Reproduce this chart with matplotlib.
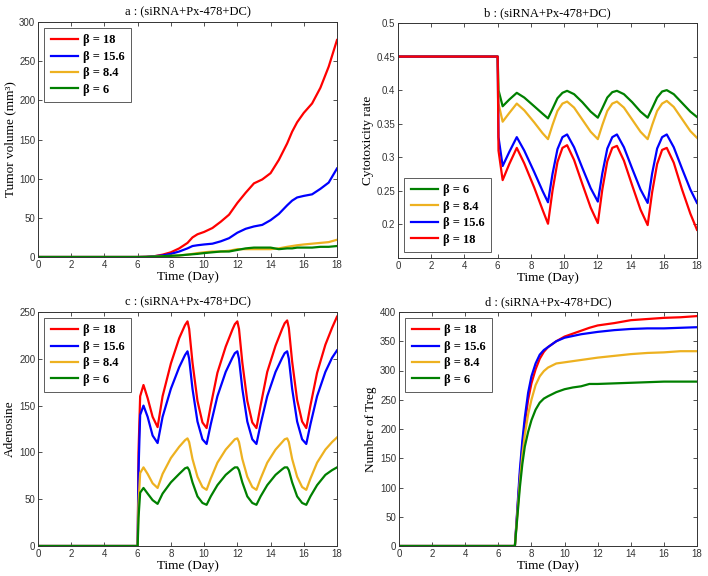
import matplotlib
matplotlib.use('Agg')
import matplotlib.pyplot as plt

# colours used by the four beta values
colors = {'18': '#ff0000', '15.6': '#0000ff', '8.4': '#edb120', '6': '#008000'}
title_txt = '(siRNA+Px-478+DC)'

# ---- panel a : tumor volume ----
a_x = [0, 6, 6.5, 7, 7.5, 8, 8.5, 9, 9.3, 9.6, 10, 10.5, 11, 11.5, 12, 12.5, 13, 13.5, 14,
       14.5, 15, 15.3, 15.6, 16, 16.5, 17, 17.5, 18]
a_red = [0, 0, 0.3, 1, 3, 6, 11, 18, 25, 29, 32, 37, 45, 54, 69, 82, 94, 99, 107,
         124, 145, 160, 172, 184, 196, 216, 243, 277]
a_blue = [0, 0, 0.2, 1, 2, 4, 7, 11, 14, 15, 16, 17, 20, 24, 31, 36, 39, 41, 47,
          55, 66, 72, 76, 78, 80, 87, 95, 113]
a_orange = [0, 0, 0.1, 0.5, 1, 1.5, 2, 3, 4, 5, 6, 7, 7, 8, 10, 10, 10, 10, 10,
            11, 13, 14, 15, 16, 17, 18, 19, 22]
a_green = [0, 0, 0.1, 0.5, 1, 1.5, 2, 3, 3.5, 4, 5, 6, 7, 7, 9, 11, 12, 12, 12,
           10, 11, 11, 12, 12, 12, 13, 13, 14]

# ---- panel b : cytotoxicity rate ----
b_x = [0, 6, 6.05, 6.3, 6.7, 7.15, 7.6, 8.2, 8.7, 9.03, 9.3, 9.6, 9.9, 10.18, 10.6, 11.1, 11.6, 12.03,
       12.3, 12.6, 12.9, 13.18, 13.6, 14.1, 14.6, 15.03, 15.3, 15.6, 15.9, 16.18, 16.6, 17.1, 17.6, 18]
b_green = [0.45, 0.45, 0.40, 0.376, 0.386, 0.396, 0.389, 0.376, 0.365, 0.358, 0.372, 0.388, 0.396, 0.399,
           0.394, 0.382, 0.368, 0.359, 0.373, 0.389, 0.397, 0.399, 0.394, 0.382, 0.368, 0.359,
           0.373, 0.389, 0.398, 0.400, 0.394, 0.381, 0.368, 0.360]
b_orange = [0.45, 0.45, 0.38, 0.353, 0.366, 0.380, 0.370, 0.352, 0.336, 0.327, 0.348, 0.369, 0.380, 0.383,
            0.374, 0.356, 0.338, 0.327, 0.348, 0.369, 0.380, 0.383, 0.374, 0.356, 0.338, 0.327,
            0.348, 0.369, 0.380, 0.384, 0.375, 0.357, 0.339, 0.329]
b_blue = [0.45, 0.45, 0.33, 0.287, 0.308, 0.330, 0.310, 0.278, 0.250, 0.233, 0.275, 0.312, 0.330, 0.334,
          0.315, 0.284, 0.254, 0.234, 0.276, 0.313, 0.330, 0.334, 0.315, 0.283, 0.252, 0.232,
          0.276, 0.313, 0.330, 0.334, 0.315, 0.283, 0.252, 0.232]
b_red = [0.45, 0.45, 0.31, 0.266, 0.290, 0.314, 0.291, 0.255, 0.222, 0.201, 0.250, 0.293, 0.314, 0.318,
         0.296, 0.260, 0.225, 0.202, 0.252, 0.294, 0.314, 0.317, 0.295, 0.258, 0.222, 0.199,
         0.248, 0.290, 0.311, 0.314, 0.292, 0.252, 0.216, 0.192]

# ---- panel c : adenosine ----
c_x = [0, 6, 6.05, 6.15, 6.35, 6.6, 6.9, 7.2, 7.5, 8.0, 8.5, 8.85, 9.0, 9.1, 9.3, 9.6, 9.9, 10.15,
       10.4, 10.8, 11.3, 11.7, 11.85, 12.0, 12.1, 12.3, 12.6, 12.9, 13.15,
       13.4, 13.8, 14.3, 14.7, 14.85, 15.0, 15.1, 15.3, 15.6, 15.9, 16.15, 16.4, 16.8, 17.3, 17.7, 18]
c_red = [0, 0, 100, 160, 172, 158, 138, 127, 160, 195, 222, 236, 240, 232, 196, 155, 132, 126,
         150, 185, 213, 231, 237, 240, 232, 196, 155, 132, 126,
         150, 186, 214, 232, 238, 241, 233, 197, 156, 133, 126, 150, 185, 215, 233, 245]
c_blue = [0, 0, 80, 140, 150, 138, 118, 110, 138, 168, 191, 204, 208, 200, 168, 133, 114, 109,
          130, 160, 186, 201, 206, 208, 200, 168, 133, 114, 109,
          130, 160, 186, 201, 206, 208, 200, 168, 133, 114, 109, 130, 160, 186, 201, 209]
c_orange = [0, 0, 45, 78, 84, 77, 67, 62, 77, 94, 106, 113, 115, 111, 93, 74, 63, 60,
            72, 89, 103, 111, 114, 115, 111, 93, 74, 63, 60,
            72, 89, 103, 111, 114, 115, 111, 93, 74, 63, 60, 72, 89, 103, 111, 116]
c_green = [0, 0, 30, 57, 62, 56, 49, 45, 56, 68, 77, 83, 84, 81, 68, 53, 46, 44,
           53, 65, 76, 82, 84, 84, 81, 68, 53, 46, 44,
           53, 65, 76, 82, 84, 84, 81, 68, 53, 46, 44, 53, 65, 76, 81, 84]

# ---- panel d : number of Treg ----
d_x = [0, 7, 7.15, 7.3, 7.45, 7.6, 7.8, 8.0, 8.25, 8.5, 8.75, 9, 9.5, 10, 10.5, 11, 11.5, 12,
       13, 14, 15, 16, 17, 18]
d_red = [0, 0, 60, 120, 170, 210, 250, 278, 302, 320, 332, 340, 350, 358, 363, 368, 373, 377,
         381, 386, 388, 390, 391, 393]
d_blue = [0, 0, 65, 130, 180, 220, 262, 290, 312, 327, 335, 340, 350, 356, 359, 362, 364, 366,
          369, 371, 372, 372, 373, 374]
d_orange = [0, 0, 55, 110, 155, 190, 225, 250, 275, 290, 299, 305, 312, 314, 316, 318, 320, 322,
            325, 328, 330, 331, 333, 333]
d_green = [0, 0, 50, 100, 140, 170, 195, 215, 233, 245, 252, 256, 263, 268, 271, 273, 277, 277,
           278, 279, 280, 281, 281, 281]

serif = 'Liberation Serif'
sans = 'Liberation Sans'

fig = plt.figure(figsize=(7.08, 5.76), dpi=100)
W, H = 708, 576
boxes = {'a': (38, 22, 337, 257), 'b': (398, 23, 697, 258),
         'c': (38, 312, 337, 546), 'd': (399, 312, 697, 546)}


def make_ax(key):
    l, t, r, b = boxes[key]
    ax = fig.add_axes([l / W, 1 - b / H, (r - l) / W, (b - t) / H])
    ax.tick_params(direction='in', top=True, right=True, length=3, width=0.6,
                   labelsize=7, pad=2, colors='#333333')
    for s in ax.spines.values():
        s.set_linewidth(0.7)
        s.set_color('#333333')
    ax.set_xlim(0, 18)
    ax.set_xticks(range(0, 19, 2))
    ax.set_xlabel('Time (Day)', fontfamily=serif, fontsize=9.5, labelpad=1)
    ax.set_title(key + ' : ' + title_txt, fontfamily=serif, fontsize=9, pad=5)
    return ax


def fix_ticks(ax):
    for lab in ax.get_xticklabels() + ax.get_yticklabels():
        lab.set_fontfamily(sans)


def legend(ax, loc):
    leg = ax.legend(loc=loc, prop={'family': serif, 'weight': 'bold', 'size': 9},
                    fancybox=False, edgecolor='#333333', handlelength=2.2,
                    borderaxespad=0.5, labelspacing=0.35, handletextpad=0.4,
                    borderpad=0.5)
    leg.get_frame().set_linewidth(0.7)
    return leg


lw = 1.6

# panel a
ax = make_ax('a')
ax.plot(a_x, a_red, color=colors['18'], lw=lw, label='β = 18')
ax.plot(a_x, a_blue, color=colors['15.6'], lw=lw, label='β = 15.6')
ax.plot(a_x, a_orange, color=colors['8.4'], lw=lw, label='β = 8.4')
ax.plot(a_x, a_green, color=colors['6'], lw=lw, label='β = 6')
ax.set_ylim(0, 300)
ax.set_yticks(range(0, 301, 50))
ax.set_ylabel('Tumor volume (mm³)', fontfamily=serif, fontsize=9.5, labelpad=2)
fix_ticks(ax)
legend(ax, 'upper left')

# panel b
ax = make_ax('b')
ax.plot(b_x, b_green, color=colors['6'], lw=lw, label='β = 6')
ax.plot(b_x, b_orange, color=colors['8.4'], lw=lw, label='β = 8.4')
ax.plot(b_x, b_blue, color=colors['15.6'], lw=lw, label='β = 15.6')
ax.plot(b_x, b_red, color=colors['18'], lw=lw, label='β = 18')
ax.set_ylim(0.15, 0.5)
ax.set_yticks([0.2, 0.25, 0.3, 0.35, 0.4, 0.45, 0.5])
ax.set_yticklabels(['0.2', '0.25', '0.3', '0.35', '0.4', '0.45', '0.5'])
ax.set_ylabel('Cytotoxicity rate', fontfamily=serif, fontsize=9.5, labelpad=2)
fix_ticks(ax)
legend(ax, 'lower left')

# panel c
ax = make_ax('c')
ax.plot(c_x, c_red, color=colors['18'], lw=lw, label='β = 18')
ax.plot(c_x, c_blue, color=colors['15.6'], lw=lw, label='β = 15.6')
ax.plot(c_x, c_orange, color=colors['8.4'], lw=lw, label='β = 8.4')
ax.plot(c_x, c_green, color=colors['6'], lw=lw, label='β = 6')
ax.set_ylim(0, 250)
ax.set_yticks(range(0, 251, 50))
ax.set_ylabel('Adenosine', fontfamily=serif, fontsize=9.5, labelpad=2)
fix_ticks(ax)
legend(ax, 'upper left')

# panel d
ax = make_ax('d')
ax.plot(d_x, d_red, color=colors['18'], lw=lw, label='β = 18')
ax.plot(d_x, d_blue, color=colors['15.6'], lw=lw, label='β = 15.6')
ax.plot(d_x, d_orange, color=colors['8.4'], lw=lw, label='β = 8.4')
ax.plot(d_x, d_green, color=colors['6'], lw=lw, label='β = 6')
ax.set_ylim(0, 400)
ax.set_yticks(range(0, 401, 50))
ax.set_ylabel('Number of Treg', fontfamily=serif, fontsize=9.5, labelpad=2)
fix_ticks(ax)
legend(ax, 'upper left')

fig.savefig('out.png', dpi=100)
